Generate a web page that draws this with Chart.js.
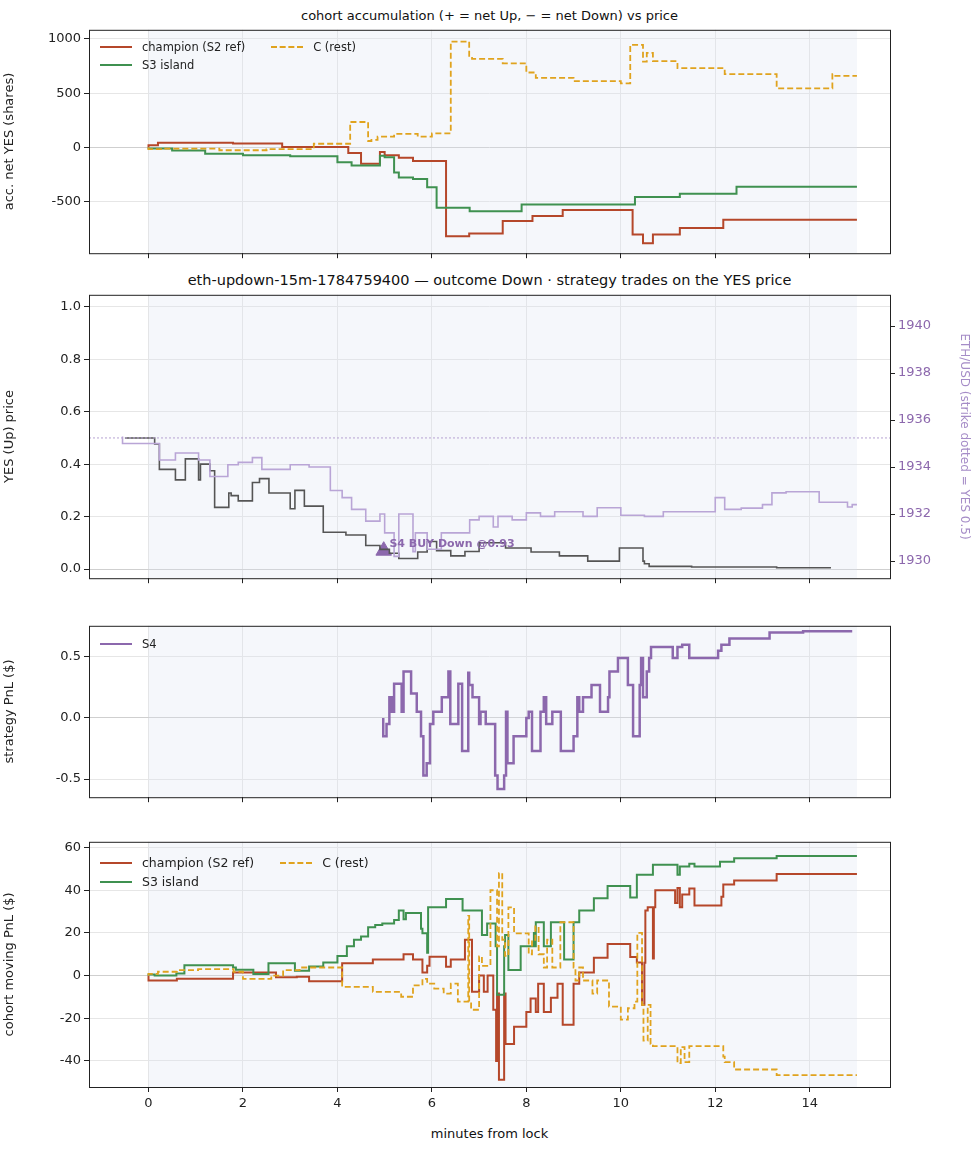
<!DOCTYPE html>
<html>
<head>
<meta charset="utf-8">
<script src="https://cdn.jsdelivr.net/npm/chart.js@4"></script>
<style>
  body { margin: 0; background: #fff; font-family: "DejaVu Sans", sans-serif; }
  #wrap { position: relative; width: 973px; height: 1156px; }
  .box { position: absolute; left: 0; width: 973px; }
  .title { position: absolute; left: 89px; width: 801px; text-align: center; color: #111; }
  .legend { position: absolute; font-size: 11.5px; color: #222; display: grid; grid-template-columns: auto auto; column-gap: 26px; row-gap: 4px; }
  .legend span { display: flex; align-items: center; }
  .legend i { display: inline-block; width: 32px; height: 0; margin-right: 10px; border-top: 2.5px solid; }
  .xlab { position: absolute; left: 89px; width: 801px; text-align: center; font-size: 13px; color: #111; }
</style>
</head>
<body>
<div id="wrap">
  <div class="title" style="top:8px;font-size:13px">cohort accumulation (+ = net Up, − = net Down) vs price</div>
  <div class="box" style="top:19px;height:245px"><canvas id="c1"></canvas></div>
  <div class="title" style="top:272px;font-size:14.5px">eth-updown-15m-1784759400 — outcome Down · strategy trades on the YES price</div>
  <div class="box" style="top:284px;height:305px"><canvas id="c2"></canvas></div>
  <div class="box" style="top:615px;height:193px"><canvas id="c3"></canvas></div>
  <div class="box" style="top:831px;height:286px"><canvas id="c4"></canvas></div>
  <div class="xlab" style="top:1126px">minutes from lock</div>

  <div class="legend" style="left:100px;top:40px">
    <span><i style="border-color:#b5472a"></i>champion (S2 ref)</span>
    <span><i style="border-color:#e0a31e;border-top-style:dashed"></i>C (rest)</span>
    <span><i style="border-color:#3f9150"></i>S3 island</span>
  </div>
  <div class="legend" style="left:100px;top:637px">
    <span><i style="border-color:#8c68ad"></i>S4</span>
  </div>
  <div class="legend" style="left:100px;top:855px;font-size:12.5px">
    <span><i style="border-color:#b5472a"></i>champion (S2 ref)</span>
    <span><i style="border-color:#e0a31e;border-top-style:dashed"></i>C (rest)</span>
    <span><i style="border-color:#3f9150"></i>S3 island</span>
  </div>
</div>
<script>
// x axis: minutes from lock
const xMin = -1.26, xMax = 15.7;
const xTicks = [0, 2, 4, 6, 8, 10, 12, 14];

// panel 1: accumulated net YES shares
const accChampion = [[0,0],[0.2,20],[1.79,45],[2.83,38],[4.23,5],[4.5,-50],[4.9,-150],[5.0,-40],[5.3,-70],[5.6,-95],[6.3,-125],[6.79,-815],[7.5,-790],[8.13,-675],[8.77,-630],[10.25,-575],[10.47,-800],[10.68,-880],[11.25,-800],[12.17,-740],[13.3,-665],[15.0,-665]];
const accS3 = [[0,0],[0.5,-10],[1.2,-28],[2.0,-57],[3.0,-70],[4.0,-80],[4.3,-135],[4.9,-165],[5.0,-75],[5.2,-90],[5.3,-230],[5.6,-275],[5.9,-290],[6.1,-365],[6.8,-555],[7.9,-585],[10.3,-525],[11.25,-455],[12.45,-425],[13.34,-360],[15.0,-360]];
const accC = [[0,0],[0.3,-15],[1.5,-10],[2.5,-25],[3.5,-15],[4.27,35],[4.65,235],[4.72,60],[4.85,70],[5.2,100],[5.7,125],[6.0,100],[6.4,130],[6.79,975],[6.85,825],[7.5,815],[8.0,775],[8.2,690],[9.0,640],[10.0,610],[10.2,590],[10.47,945],[10.55,790],[10.68,870],[11.2,795],[12.2,730],[13.3,675],[14.48,545],[14.52,675],[15.0,660]];

// panel 2: YES price and ETH/USD
const yesPrice = [[-0.5,0.5],[0.13,0.5],[0.23,0.477],[0.57,0.38],[0.78,0.34],[1.06,0.42],[1.1,0.34],[1.3,0.40],[1.4,0.375],[1.7,0.235],[1.75,0.29],[1.9,0.28],[2.2,0.26],[2.35,0.33],[2.55,0.345],[3.0,0.29],[3.1,0.23],[3.3,0.30],[3.7,0.24],[4.18,0.14],[4.6,0.13],[4.9,0.09],[5.1,0.075],[5.3,0.06],[5.7,0.04],[5.9,0.065],[6.1,0.105],[6.4,0.07],[6.7,0.05],[7.0,0.067],[7.56,0.10],[8.1,0.08],[8.7,0.065],[9.3,0.05],[9.97,0.03],[10.47,0.08],[10.5,0.03],[10.6,0.02],[11.5,0.01],[13.3,0.008],[14.0,0.005],[14.45,0.005]];
const ethUsd = [[-0.55,1935.3],[0.23,1935.0],[0.57,1934.3],[1.06,1934.6],[1.3,1934.3],[1.68,1933.6],[1.9,1934.1],[2.2,1934.2],[2.4,1934.4],[3.0,1933.9],[3.4,1934.1],[3.85,1934.0],[4.1,1933.0],[4.3,1932.7],[4.6,1932.2],[4.9,1931.7],[5.0,1932.0],[5.2,1931.2],[5.3,1930.2],[5.6,1932.0],[5.65,1930.4],[5.9,1931.2],[6.2,1930.5],[6.8,1931.2],[7.0,1931.75],[7.3,1931.9],[7.4,1931.45],[7.7,1931.9],[8.0,1931.75],[8.3,1932.05],[8.6,1931.9],[9.2,1932.1],[9.5,1931.9],[10.0,1932.27],[10.5,1931.95],[10.9,1931.9],[11.5,1932.1],[12.0,1932.1],[12.2,1932.7],[12.55,1932.2],[13.0,1932.25],[13.2,1932.4],[13.5,1932.9],[14.2,1932.95],[14.4,1932.5],[14.8,1932.5],[14.9,1932.3],[15.0,1932.4]];
const strikeLine = [[xMin,0.5],[xMax,0.5]];
const s4Trade = [[4.98,0.07]];

// panel 3: S4 strategy PnL
const pnlS4 = [[4.97,0],[5.04,-0.15],[5.1,-0.05],[5.15,0.17],[5.2,0.05],[5.36,0.28],[5.4,0.05],[5.56,0.38],[5.68,0.2],[5.77,0.05],[5.82,-0.15],[5.89,-0.47],[5.96,-0.37],[6.03,-0.05],[6.21,0.05],[6.35,0.17],[6.39,0.38],[6.56,-0.05],[6.64,0.28],[6.77,-0.27],[6.79,0.37],[6.86,0.27],[7.0,0.17],[7.03,-0.05],[7.14,0.05],[7.34,-0.05],[7.39,-0.47],[7.53,-0.58],[7.57,-0.47],[7.6,0.05],[7.73,-0.37],[8.0,-0.15],[8.05,0.0],[8.12,0.05],[8.3,-0.27],[8.37,0.05],[8.42,0.17],[8.55,-0.05],[8.73,0.05],[9.0,-0.27],[9.08,-0.15],[9.12,0.17],[9.2,0.05],[9.38,0.17],[9.56,0.27],[9.73,0.05],[9.76,0.17],[9.94,0.38],[10.15,0.49],[10.26,0.27],[10.4,-0.15],[10.43,0.27],[10.47,0.49],[10.55,0.17],[10.6,0.38],[10.64,0.49],[11.1,0.58],[11.2,0.49],[11.3,0.58],[11.45,0.6],[12.06,0.49],[12.13,0.55],[12.3,0.6],[13.15,0.65],[13.86,0.7],[14.9,0.71]];

// panel 4: cohort moving PnL
const pnlChampion = [[0,0],[0.6,-2.3],[1.79,-1.5],[2.7,1.5],[3.14,-0.8],[3.4,-0.5],[4.1,-2.7],[4.75,5.8],[5.4,7.6],[5.6,10],[5.8,7.6],[5.9,1.5],[5.95,4.6],[6.3,8.8],[6.4,4.2],[6.7,7.6],[6.85,16.8],[7.0,-7.6],[7.1,0],[7.18,-7.6],[7.3,0],[7.36,-16],[7.38,-40],[7.42,-8.4],[7.53,-48.8],[7.56,-8.4],[7.74,-32],[8.0,-24],[8.09,-17],[8.2,-10.7],[8.25,-17],[8.37,-3.8],[8.52,-17],[8.66,-10.4],[8.77,-3.8],[9.0,-23],[9.12,-3.8],[9.43,1.5],[9.72,8.4],[10.2,14.8],[10.34,8.7],[10.45,6.1],[10.5,-13.7],[10.52,6],[10.57,30.5],[10.68,32],[10.7,8],[10.73,32],[11.15,40],[11.2,34],[11.25,41],[11.3,32],[11.45,38],[11.56,40.8],[12.13,32.8],[12.17,37],[12.4,42.7],[13.3,44.6],[14.95,47.6],[15.0,47.6]];
const pnlS3 = [[0,0],[0.13,0.5],[0.59,0],[0.76,1],[1.79,4.9],[1.85,3.8],[2.22,2.7],[2.54,0.8],[3.1,5.8],[3.4,2.3],[3.7,4.3],[4.0,6.1],[4.2,9.2],[4.35,13.7],[4.5,16.8],[4.65,18.3],[4.8,22.6],[4.95,23.7],[5.2,24.4],[5.3,26],[5.4,30.5],[5.45,26.4],[5.77,29.3],[5.8,22],[5.9,19.8],[5.92,10.7],[6.3,32],[6.65,35.9],[6.9,30.5],[7.06,30.5],[7.17,19],[7.35,24.4],[7.38,13.7],[7.53,-9],[7.55,13.7],[7.62,19],[7.88,2.6],[8.16,13.7],[8.18,20],[8.2,13.7],[8.37,25],[8.52,13.7],[8.8,25],[9.0,7.6],[9.12,25],[9.43,30.5],[9.72,36.2],[10.2,42],[10.34,36.6],[10.68,47.3],[11.2,52],[11.25,47.3],[11.45,51.1],[11.56,52.4],[12.1,51.1],[12.4,53.4],[13.3,55],[14.95,56],[15.0,56]];
const pnlC = [[0,0],[0.2,0.8],[0.6,1.8],[1.05,2.6],[1.8,3],[2.0,1.8],[2.6,-1.5],[2.85,0],[3.2,2.6],[4.1,3.8],[4.75,-5.3],[5.35,-7.6],[5.6,-9.9],[5.8,-4.6],[5.9,-1.5],[6.05,-3.8],[6.25,-6.1],[6.4,-8.4],[6.55,-3.8],[6.77,-12.2],[6.79,28],[6.83,-12.2],[7.0,-16],[7.06,9],[7.24,4.6],[7.38,40],[7.42,13.7],[7.49,48],[7.55,16.8],[7.62,9.2],[7.74,32],[8.05,19.8],[8.12,10],[8.19,16.8],[8.26,23],[8.37,10],[8.44,3.8],[8.55,16.8],[8.72,3.8],[9.0,25],[9.04,3.8],[9.12,-2.3],[9.2,3.8],[9.4,-2.3],[9.5,-8.4],[9.75,-2.3],[10.0,-14.5],[10.15,-20.6],[10.29,-15.3],[10.35,-12.2],[10.45,20],[10.48,-13.7],[10.57,-30.5],[10.63,-13.7],[10.68,-32],[11.2,-33],[11.27,-41],[11.35,-33.5],[11.45,-40.5],[12.17,-33],[12.2,-38],[12.4,-40.5],[13.3,-44],[14.0,-46.6],[15.0,-46.6]];

const toXY = arr => arr.map(p => ({ x: p[0], y: p[1] }));

const FONT = "DejaVu Sans";
Chart.defaults.font.family = FONT;
Chart.defaults.font.size = 13;
Chart.defaults.color = "#222";
Chart.defaults.animation = false;

// shaded window 0..15, full frame, annotation text
const framePlugin = {
  id: "frame",
  beforeDatasetsDraw(chart) {
    const { ctx, chartArea: a, scales } = chart;
    const x0 = scales.x.getPixelForValue(0), x1 = scales.x.getPixelForValue(15);
    ctx.save();
    ctx.fillStyle = "rgba(220,225,240,0.28)";
    ctx.fillRect(x0, a.top, x1 - x0, a.bottom - a.top);
    ctx.restore();
  },
  afterDraw(chart) {
    const { ctx, chartArea: a } = chart;
    ctx.save();
    ctx.strokeStyle = "#222";
    ctx.lineWidth = 1;
    ctx.strokeRect(a.left + 0.5, a.top + 0.5, a.right - a.left, a.bottom - a.top);
    const note = chart.options.plugins.frame && chart.options.plugins.frame.note;
    if (note) {
      ctx.fillStyle = "#8c68ad";
      ctx.font = "bold 11px " + FONT;
      ctx.textBaseline = "middle";
      ctx.fillText(note.text, chart.scales.x.getPixelForValue(note.x), chart.scales.y.getPixelForValue(note.y));
    }
    ctx.restore();
  }
};

function xAxis(showTicks) {
  return {
    type: "linear", min: xMin, max: xMax,
    afterBuildTicks: s => { s.ticks = xTicks.map(v => ({ value: v })); },
    afterFit: s => { s.height = showTicks ? 30 : 7; },
    grid: { color: "#e6e6e6", tickLength: 5, tickColor: "#222", drawOnChartArea: true },
    border: { display: false },
    ticks: { display: showTicks, color: "#222", padding: 4 }
  };
}

function yAxis(title, ticks, min, max) {
  return {
    type: "linear", min: min, max: max,
    afterBuildTicks: s => { s.ticks = ticks.map(v => ({ value: v })); },
    afterFit: s => { s.width = 89; },
    grid: { color: c => (c.tick && c.tick.value === 0 ? "#cfcfcf" : "#e6e6e6"), tickLength: 5, tickColor: "#222" },
    border: { display: false },
    title: { display: true, text: title, color: "#222", font: { size: 13 }, padding: 2 },
    ticks: { color: "#222", padding: 3, callback: v => String(v) }
  };
}

function line(data, color, width, dash, axis) {
  return {
    data: toXY(data), borderColor: color, borderWidth: width, borderDash: dash || [],
    stepped: "after", pointRadius: 0, fill: false, yAxisID: axis || "y"
  };
}

const baseOpts = (scales, pad) => ({
  responsive: true, maintainAspectRatio: false,
  layout: { padding: pad },
  plugins: { legend: { display: false }, tooltip: { enabled: false } },
  scales: scales
});

// Panel 1
new Chart(document.getElementById("c1"), {
  type: "line",
  data: { datasets: [
    line(accC, "#e0a31e", 1.8, [6, 3]),
    line(accS3, "#3f9150", 2),
    line(accChampion, "#b5472a", 2)
  ] },
  options: baseOpts({ x: xAxis(false), y: yAxis("acc. net YES (shares)", [-500, 0, 500, 1000], -972, 1083) },
    { top: 1, right: 83, left: 0, bottom: 0 }),
  plugins: [framePlugin]
});

// Panel 2
const y2 = yAxis("YES (Up) price", [0, 0.2, 0.4, 0.6, 0.8, 1.0], -0.035, 1.046);
y2.ticks.callback = v => v.toFixed(1);
const opts2 = baseOpts({
  x: xAxis(false),
  y: y2,
  y1: {
    type: "linear", position: "right", min: 1929.27, max: 1941.33,
    afterBuildTicks: s => { s.ticks = [1930, 1932, 1934, 1936, 1938, 1940].map(v => ({ value: v })); },
    afterFit: s => { s.width = 83; },
    grid: { drawOnChartArea: false, tickLength: 5, tickColor: "#222" },
    border: { display: false },
    title: { display: true, text: "ETH/USD (strike dotted = YES 0.5)", color: "#a58cc7", font: { size: 12 }, padding: 2 },
    ticks: { color: "#8c68ad", padding: 3, callback: v => String(v) }
  }
}, { top: 1, right: 0, left: 0, bottom: 0 });
opts2.plugins.frame = { note: { text: "S4 BUY Down @0.93", x: 5.1, y: 0.095 } };
new Chart(document.getElementById("c2"), {
  type: "line",
  data: { datasets: [
    { data: toXY(strikeLine), borderColor: "#b6a3d2", borderWidth: 1, borderDash: [2, 2], pointRadius: 0, yAxisID: "y" },
    line(ethUsd, "#b9a5d6", 1.6, null, "y1"),
    line(yesPrice, "#555555", 1.6),
    { type: "scatter", data: toXY(s4Trade), pointStyle: "triangle", pointRadius: 9, backgroundColor: "#8c68ad", borderColor: "#8c68ad", yAxisID: "y" }
  ] },
  options: opts2,
  plugins: [framePlugin]
});

// Panel 3
const y3 = yAxis("strategy PnL ($)", [-0.5, 0, 0.5], -0.648, 0.754);
y3.ticks.callback = v => v.toFixed(1);
new Chart(document.getElementById("c3"), {
  type: "line",
  data: { datasets: [line(pnlS4, "#8c68ad", 2.5)] },
  options: baseOpts({ x: xAxis(false), y: y3 }, { top: 1, right: 83, left: 0, bottom: 0 }),
  plugins: [framePlugin]
});

// Panel 4
new Chart(document.getElementById("c4"), {
  type: "line",
  data: { datasets: [
    line(pnlC, "#e0a31e", 1.8, [6, 3]),
    line(pnlS3, "#3f9150", 2),
    line(pnlChampion, "#b5472a", 2)
  ] },
  options: baseOpts({ x: xAxis(true), y: yAxis("cohort moving PnL ($)", [-40, -20, 0, 20, 40, 60], -52.2, 62.7) },
    { top: 1, right: 83, left: 0, bottom: 0 }),
  plugins: [framePlugin]
});
</script>
</body>
</html>
